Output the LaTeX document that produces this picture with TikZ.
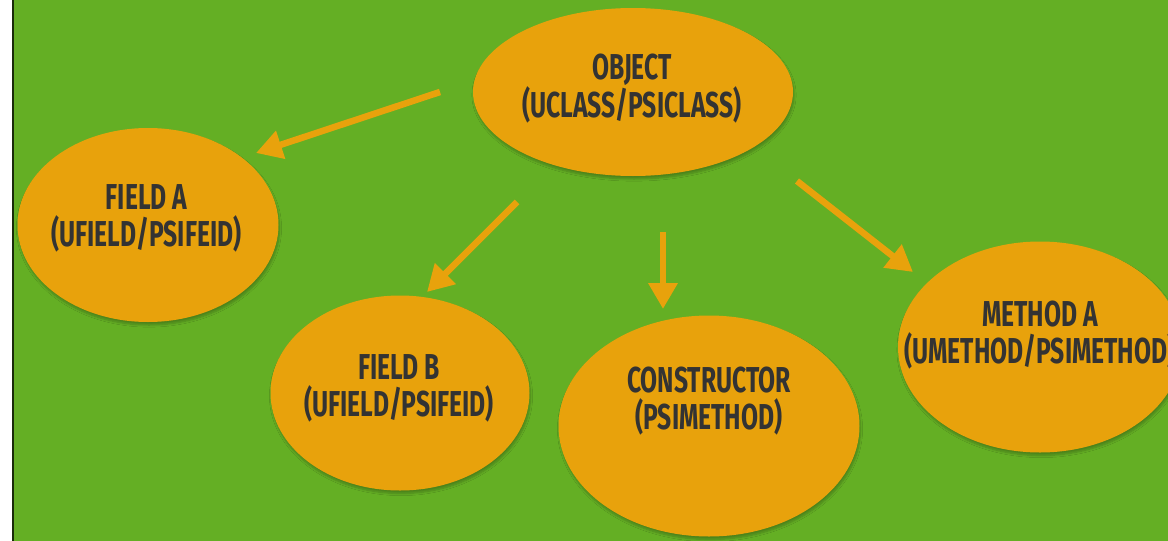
\documentclass[tikz,border=0pt]{standalone}
\usepackage{fontspec}
\setmainfont{Fira Sans}[FakeStretch=0.685]
\usetikzlibrary{arrows.meta,shapes.geometric,shadows.blur}
\definecolor{bg}{HTML}{64AF24}
\definecolor{blob}{HTML}{E8A20C}
\definecolor{ink}{HTML}{333333}
\tikzset{
  blob/.style={ellipse, fill=blob, inner sep=0pt,
    blur shadow={shadow xshift=1pt, shadow yshift=-3pt, shadow blur steps=6, shadow opacity=25}},
  caption/.style={text=ink, align=center, inner sep=0pt,
    font=\bfseries\fontsize{36}{37}\selectfont},
  link/.style={draw=blob, line width=6.5pt,
    -{Triangle[length=26pt, width=28pt]}}
}
\begin{document}
\begin{tikzpicture}[x=1pt, y=-1pt]
  \useasboundingbox (0,0) rectangle (1168,541);
  \clip (0,0) rectangle (1168,541);
  % page background with the left margin strip
  \fill[white] (0,0) rectangle (1168,541);
  \fill[bg] (14,0) rectangle (1168,541);
  \draw[line width=2pt, black!75!bg] (13,0) -- (13,541);

  % class members
  \node[blob, minimum width=320pt, minimum height=168pt] (obj) at (633,92) {};
  \node[blob, minimum width=261pt, minimum height=194pt] (fa) at (148,225) {};
  \node[blob, minimum width=259pt, minimum height=195pt] (fb) at (400,393) {};
  \node[blob, minimum width=301pt, minimum height=221pt] (ctor) at (709,426) {};
  \node[blob, minimum width=284pt, minimum height=211pt] (ma) at (1040,347) {};

  % their labels
  \node[caption] (obj-t)  at (632,88.75) {OBJECT\\(UCLASS/PSICLASS)};
  \node[caption] (fa-t)   at (146.5,218) {FIELD A\\(UFIELD/PSIFEID)};
  \node[caption] (fb-t)   at (399,388.5) {FIELD B\\(UFIELD/PSIFEID)};
  \node[caption] (ctor-t) at (709,401.5) {CONSTRUCTOR\\(PSIMETHOD)};
  \node[caption] (ma-t)   at (1040,335) {METHOD A\\(UMETHOD/PSIMETHOD)};

  % arrow ends
  \coordinate (s1) at (440,92);  \coordinate (t1) at (256,153);
  \coordinate (s2) at (517,202); \coordinate (t2) at (427,292);
  \coordinate (s3) at (663,232); \coordinate (t3) at (663,309);
  \coordinate (s4) at (797,181); \coordinate (t4) at (913,272);

  \draw[link] (s1) -- (t1);
  \draw[link] (s2) -- (t2);
  \draw[link] (s3) -- (t3);
  \draw[link] (s4) -- (t4);
\end{tikzpicture}
\end{document}
